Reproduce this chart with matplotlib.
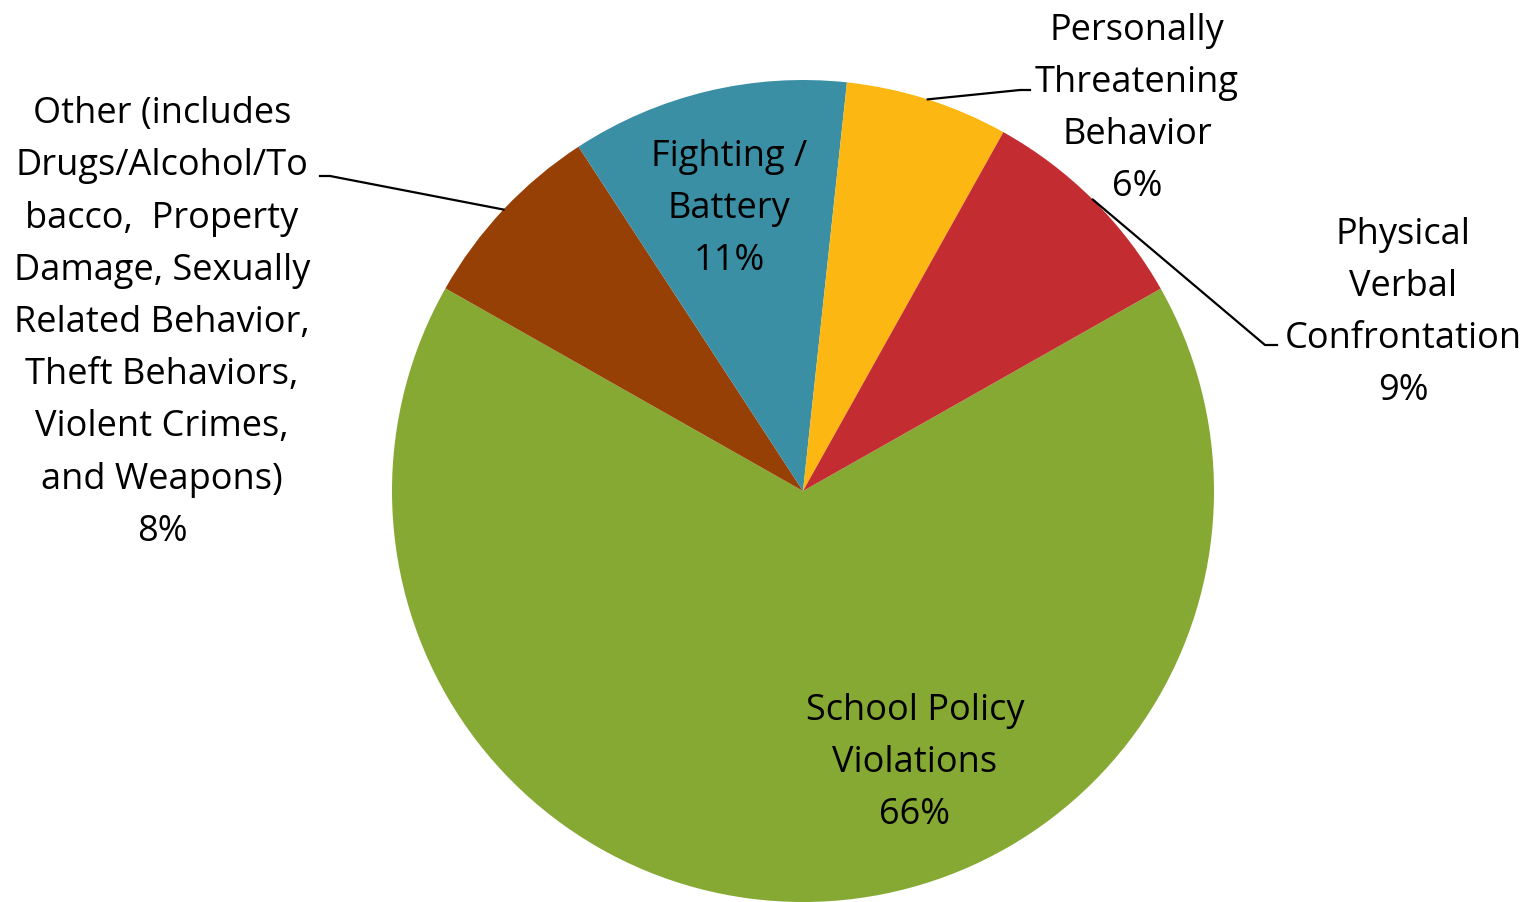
import numpy as np
import matplotlib.pyplot as plt

# Données (dans l'ordre horaire à partir de 29.5°)
categories = ["School Policy\nViolations",
              "Other (includes\nDrugs/Alcohol/To\nbacco,  Property\nDamage, Sexually\nRelated Behavior,\nTheft Behaviors,\nViolent Crimes,\nand Weapons)",
              "Fighting /\nBattery",
              "Personally\nThreatening\nBehavior",
              "Physical\nVerbal\nConfrontation"]
values = [66.4, 7.6, 10.9, 6.4, 8.7]
pct_labels = ["66%", "8%", "11%", "6%", "9%"]
colors = ["#86A934", "#974006", "#3A8FA5", "#FDB713", "#C32D31"]

# Positions des étiquettes (pixels, y vers le bas)
label_pos = [(915, 763), (162, 323), (729, 209), (1137, 109), (1403, 313)]
# extrémité côté texte des lignes de rappel (None = pas de ligne)
leader_end = [None, (320, 177), None, (1030, 91), (1277, 346)]
leader_knee = [None, (330, 177), None, (1020, 91), (1265, 346)]

W, H = 1527, 903
cx, cy, R = 803, H - 492, 411

fig = plt.figure(figsize=(W / 100, H / 100), dpi=100)
ax = fig.add_axes([0, 0, 1, 1])

wedges, _ = ax.pie(values, colors=colors, startangle=29.5, counterclock=False,
                   center=(cx, cy), radius=R, wedgeprops=dict(linewidth=0))
ax.set_xlim(0, W)
ax.set_ylim(0, H)
ax.set_aspect('equal')
ax.axis('off')

for i, w in enumerate(wedges):
    x, y = label_pos[i]
    ax.text(x, H - y, categories[i] + "\n" + pct_labels[i], ha='center', va='center',
            fontsize=26, family='Open Sans', linespacing=1.6, color='black')
    if leader_end[i] is not None:
        # ligne de rappel depuis le milieu de l'arc
        mid = np.deg2rad((w.theta1 + w.theta2) / 2)
        x0, y0 = cx + R * np.cos(mid), cy + R * np.sin(mid)
        kx, ky = leader_knee[i]
        ex, ey = leader_end[i]
        ax.plot([x0, kx, ex], [y0, H - ky, H - ey], color='black', lw=1.6)

fig.savefig("out.png", dpi=100)
